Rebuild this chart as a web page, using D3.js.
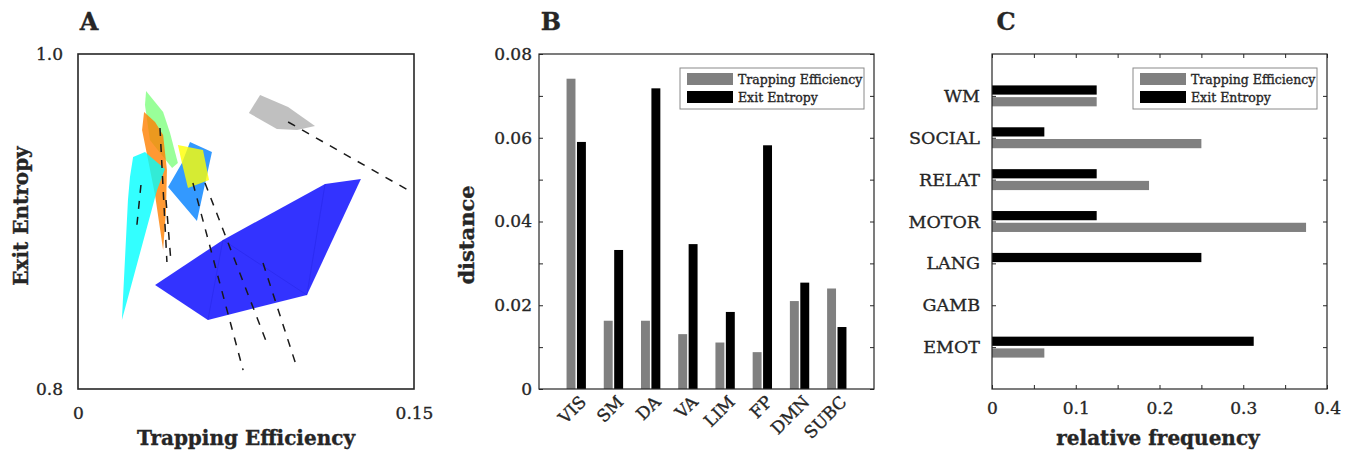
<!DOCTYPE html>
<html>
<head>
<meta charset="utf-8">
<script src="https://d3js.org/d3.v7.min.js"></script>
<style>
body { margin: 0; background: #fff; }
text { font-family: "DejaVu Serif", serif; fill: #262626; stroke: #262626; stroke-width: 0.35px; }
</style>
</head>
<body>
<script>
//series names used in the legends
let seriesNames = ["Trapping Efficiency", "Exit Entropy"];

//panel B: distance per network
let networks = ["VIS", "SM", "DA", "VA", "LIM", "FP", "DMN", "SUBC"];
let distTE = [0.0741, 0.0163, 0.0163, 0.0131, 0.0111, 0.0088, 0.0210, 0.0240];
let distEE = [0.0590, 0.0332, 0.0718, 0.0346, 0.0184, 0.0582, 0.0254, 0.0148];

//panel C: relative frequency per task (bottom to top)
let tasks = ["EMOT", "GAMB", "LANG", "MOTOR", "RELAT", "SOCIAL", "WM"];
let freqTE = [0.0625, 0, 0, 0.375, 0.1875, 0.25, 0.125];
let freqEE = [0.3125, 0, 0.25, 0.125, 0.125, 0.0625, 0.125];

//panel A: projected hulls, [trapping efficiency, exit entropy]
let hullGreen = [[0.0304, 0.9779], [0.0380, 0.9654], [0.0411, 0.9528], [0.0446, 0.9349], [0.0420, 0.9319], [0.0321, 0.9487], [0.0299, 0.9696]];
let hullOrange = [[0.0295, 0.9654], [0.0344, 0.9594], [0.0380, 0.9516], [0.0397, 0.9307], [0.0393, 0.9069], [0.0380, 0.8830], [0.0344, 0.9158], [0.0304, 0.9427], [0.0286, 0.9546]];
let hullCyan = [[0.0246, 0.9385], [0.0299, 0.9415], [0.0388, 0.9313], [0.0353, 0.9188], [0.0196, 0.8412], [0.0223, 0.9128], [0.0232, 0.9266]];
let hullAzure = [[0.0500, 0.9475], [0.0598, 0.9415], [0.0531, 0.9003], [0.0402, 0.9206], [0.0464, 0.9349]];
let hullYellow = [[0.0446, 0.9457], [0.0558, 0.9427], [0.0585, 0.9248], [0.0491, 0.9200], [0.0464, 0.9349]];
let hullGray = [[0.0813, 0.9755], [0.0938, 0.9684], [0.1058, 0.9570], [0.0978, 0.9546], [0.0888, 0.9552], [0.0763, 0.9648]];
let hullBlue = [[0.0344, 0.8621], [0.0647, 0.8890], [0.1103, 0.9224], [0.1263, 0.9254], [0.1022, 0.8561], [0.0580, 0.8412]];
let blueEdges = [[0.0647, 0.8890, 0.0580, 0.8412], [0.0647, 0.8890, 0.1022, 0.8561], [0.1103, 0.9224, 0.1022, 0.8561]];
let dropLines = [
	[0.0938, 0.9594, 0.1473, 0.9188],
	[0.0513, 0.9230, 0.0737, 0.8113],
	[0.0567, 0.9230, 0.0848, 0.8257],
	[0.0826, 0.8752, 0.0978, 0.8125],
	[0.0366, 0.9558, 0.0397, 0.8758],
	[0.0393, 0.9128, 0.0415, 0.8758],
	[0.0281, 0.9218, 0.0263, 0.8979]
];

let svg = d3.select("body").append("svg")
	.attr("width", 1348)
	.attr("height", 453);

let plotTop = 54, plotBottom = 389;
let boxColor = "#262626";

//panel letters
svg.selectAll(".letter")
	.data([["A", 89], ["B", 551], ["C", 1006]])
	.enter().append("text")
	.attr("x", d => d[1])
	.attr("y", 30)
	.attr("text-anchor", "middle")
	.attr("font-size", 24)
	.attr("font-weight", "bold")
	.text(d => d[0]);

/*

PANEL A

*/

let xA = d3.scaleLinear().domain([0, 0.15]).range([78, 414]);
let yA = d3.scaleLinear().domain([0.8, 1.0]).range([plotBottom, plotTop]);

let gA = svg.append("g");

let hullLine = d3.line().x(d => xA(d[0])).y(d => yA(d[1]));

let hulls = [
	[hullGreen, "#80ff80"],
	[hullOrange, "#ff8000"],
	[hullCyan, "#00ffff"],
	[hullAzure, "#0080ff"],
	[hullYellow, "#ffff00"],
	[hullGray, "#b0b0b0"],
	[hullBlue, "#0000ff"]
];

gA.selectAll(".hull")
	.data(hulls)
	.enter().append("path")
	.attr("d", d => hullLine(d[0]) + "Z")
	.attr("fill", d => d[1])
	.attr("fill-opacity", 0.8);

gA.selectAll(".edge")
	.data(blueEdges)
	.enter().append("line")
	.attr("x1", d => xA(d[0])).attr("y1", d => yA(d[1]))
	.attr("x2", d => xA(d[2])).attr("y2", d => yA(d[3]))
	.attr("stroke", "#1a1ad0")
	.attr("stroke-opacity", 0.35)
	.attr("stroke-width", 0.8);

gA.selectAll(".drop")
	.data(dropLines)
	.enter().append("line")
	.attr("x1", d => xA(d[0])).attr("y1", d => yA(d[1]))
	.attr("x2", d => xA(d[2])).attr("y2", d => yA(d[3]))
	.attr("stroke", "#1a1a1a")
	.attr("stroke-width", 1.5)
	.attr("stroke-dasharray", "8,8");

gA.append("rect")
	.attr("x", 78).attr("y", plotTop)
	.attr("width", 336).attr("height", plotBottom - plotTop)
	.attr("fill", "none")
	.attr("stroke", boxColor)
	.attr("stroke-width", 1.6);

gA.append("g")
	.attr("transform", `translate(0, ${plotBottom})`)
	.call(d3.axisBottom(xA).tickValues([0, 0.15]).tickFormat(d3.format("")).tickSize(0).tickPadding(18))
	.call(g => g.select(".domain").remove())
	.selectAll("text").attr("font-size", 17).attr("font-family", null);

gA.append("g")
	.attr("transform", "translate(78, 0)")
	.call(d3.axisLeft(yA).tickValues([0.8, 1.0]).tickFormat(d3.format(".1f")).tickSize(0).tickPadding(15))
	.call(g => g.select(".domain").remove())
	.selectAll("text").attr("font-size", 17).attr("font-family", null);

gA.append("text")
	.attr("x", 246).attr("y", 445)
	.attr("text-anchor", "middle")
	.attr("font-size", 20).attr("font-weight", "bold")
	.text("Trapping Efficiency");

gA.append("text")
	.attr("transform", "translate(28, 216) rotate(-90)")
	.attr("text-anchor", "middle")
	.attr("font-size", 20).attr("font-weight", "bold")
	.text("Exit Entropy");

//legend helper for B and C
function legend(g, x, y) {
	g.append("rect")
		.attr("x", x).attr("y", y)
		.attr("width", 184).attr("height", 41)
		.attr("fill", "white")
		.attr("stroke", "#8a8a8a");
	seriesNames.forEach(function(name, i) {
		g.append("rect")
			.attr("x", x + 7).attr("y", y + 5 + i * 18)
			.attr("width", 46).attr("height", 12)
			.attr("fill", i == 0 ? "#808080" : "#000");
		g.append("text")
			.attr("x", x + 58).attr("y", y + 16 + i * 18)
			.attr("font-size", 12.5)
			.text(name);
	});
}

/*

PANEL B

*/

let xB = d3.scaleLinear().domain([0, 9]).range([539, 874]);
let yB = d3.scaleLinear().domain([0, 0.08]).range([plotBottom, plotTop]);
let gB = svg.append("g");
let barW = 0.24, barOff = 0.14;

gB.selectAll(".te")
	.data(distTE)
	.enter().append("rect")
	.attr("x", (d, i) => xB(i + 1 - barOff - barW / 2))
	.attr("width", xB(barW) - xB(0))
	.attr("y", d => yB(d))
	.attr("height", d => yB(0) - yB(d))
	.attr("fill", "#808080");

gB.selectAll(".ee")
	.data(distEE)
	.enter().append("rect")
	.attr("x", (d, i) => xB(i + 1 + barOff - barW / 2))
	.attr("width", xB(barW) - xB(0))
	.attr("y", d => yB(d))
	.attr("height", d => yB(0) - yB(d))
	.attr("fill", "#000");

let minorB = d3.range(0, 0.0801, 0.01);
gB.append("g").attr("transform", "translate(539, 0)")
	.call(d3.axisLeft(yB).tickValues(minorB).tickSize(-4).tickFormat(""))
	.call(g => g.select(".domain").remove())
	.selectAll("line").attr("stroke", boxColor);
gB.append("g").attr("transform", "translate(874, 0)")
	.call(d3.axisRight(yB).tickValues(minorB).tickSize(-4).tickFormat(""))
	.call(g => g.select(".domain").remove())
	.selectAll("line").attr("stroke", boxColor);

gB.append("g").attr("transform", "translate(539, 0)")
	.call(d3.axisLeft(yB).tickValues([0, 0.02, 0.04, 0.06, 0.08]).tickFormat(d => d == 0 ? "0" : d3.format(".2f")(d)).tickSize(0).tickPadding(7))
	.call(g => g.select(".domain").remove())
	.selectAll("text").attr("font-size", 17).attr("font-family", null);

gB.selectAll(".net")
	.data(networks)
	.enter().append("text")
	.attr("transform", (d, i) => `translate(${xB(i + 1) + 11}, 403) rotate(-45)`)
	.attr("text-anchor", "end")
	.attr("font-size", 17)
	.text(d => d);

gB.append("rect")
	.attr("x", 539).attr("y", plotTop)
	.attr("width", 335).attr("height", plotBottom - plotTop)
	.attr("fill", "none")
	.attr("stroke", boxColor)
	.attr("stroke-width", 1.2);

gB.append("text")
	.attr("transform", "translate(474, 235) rotate(-90)")
	.attr("text-anchor", "middle")
	.attr("font-size", 21).attr("font-weight", "bold")
	.text("distance");

legend(gB, 680, 68);

/*

PANEL C

*/

let xC = d3.scaleLinear().domain([0, 0.4]).range([992, 1327]);
let yC = d3.scaleLinear().domain([0, 8]).range([plotBottom, plotTop]);
let gC = svg.append("g");
let barH = 0.22, barOffC = 0.14;

gC.selectAll(".te")
	.data(freqTE)
	.enter().append("rect")
	.attr("x", xC(0))
	.attr("width", d => xC(d) - xC(0))
	.attr("y", (d, i) => yC(i + 1 - barOffC + barH / 2))
	.attr("height", yC(0) - yC(barH))
	.attr("fill", "#808080");

gC.selectAll(".ee")
	.data(freqEE)
	.enter().append("rect")
	.attr("x", xC(0))
	.attr("width", d => xC(d) - xC(0))
	.attr("y", (d, i) => yC(i + 1 + barOffC + barH / 2))
	.attr("height", yC(0) - yC(barH))
	.attr("fill", "#000");

let minorC = d3.range(0, 0.4001, 0.05);
gC.append("g").attr("transform", `translate(0, ${plotBottom})`)
	.call(d3.axisBottom(xC).tickValues(minorC).tickSize(-4).tickFormat(""))
	.call(g => g.select(".domain").remove())
	.selectAll("line").attr("stroke", boxColor);
gC.append("g").attr("transform", `translate(0, ${plotTop})`)
	.call(d3.axisTop(xC).tickValues(minorC).tickSize(-4).tickFormat(""))
	.call(g => g.select(".domain").remove())
	.selectAll("line").attr("stroke", boxColor);
gC.append("g").attr("transform", "translate(992, 0)")
	.call(d3.axisLeft(yC).tickValues(d3.range(1, 8)).tickSize(-4).tickFormat(""))
	.call(g => g.select(".domain").remove())
	.selectAll("line").attr("stroke", boxColor);
gC.append("g").attr("transform", "translate(1327, 0)")
	.call(d3.axisRight(yC).tickValues(d3.range(1, 8)).tickSize(-4).tickFormat(""))
	.call(g => g.select(".domain").remove())
	.selectAll("line").attr("stroke", boxColor);

gC.append("g").attr("transform", `translate(0, ${plotBottom})`)
	.call(d3.axisBottom(xC).tickValues([0, 0.1, 0.2, 0.3, 0.4]).tickFormat(d => d == 0 ? "0" : d3.format(".1f")(d)).tickSize(0).tickPadding(13))
	.call(g => g.select(".domain").remove())
	.selectAll("text").attr("font-size", 17).attr("font-family", null);

gC.append("g").attr("transform", "translate(992, 0)")
	.call(d3.axisLeft(yC).tickValues(d3.range(1, 8)).tickFormat(d => tasks[d - 1]).tickSize(0).tickPadding(12))
	.call(g => g.select(".domain").remove())
	.selectAll("text").attr("font-size", 17.5).attr("font-family", null);

gC.append("rect")
	.attr("x", 992).attr("y", plotTop)
	.attr("width", 335).attr("height", plotBottom - plotTop)
	.attr("fill", "none")
	.attr("stroke", boxColor)
	.attr("stroke-width", 1.2);

gC.append("text")
	.attr("x", 1158).attr("y", 445)
	.attr("text-anchor", "middle")
	.attr("font-size", 20).attr("font-weight", "bold")
	.text("relative frequency");

legend(gC, 1133, 68);
</script>
</body>
</html>
